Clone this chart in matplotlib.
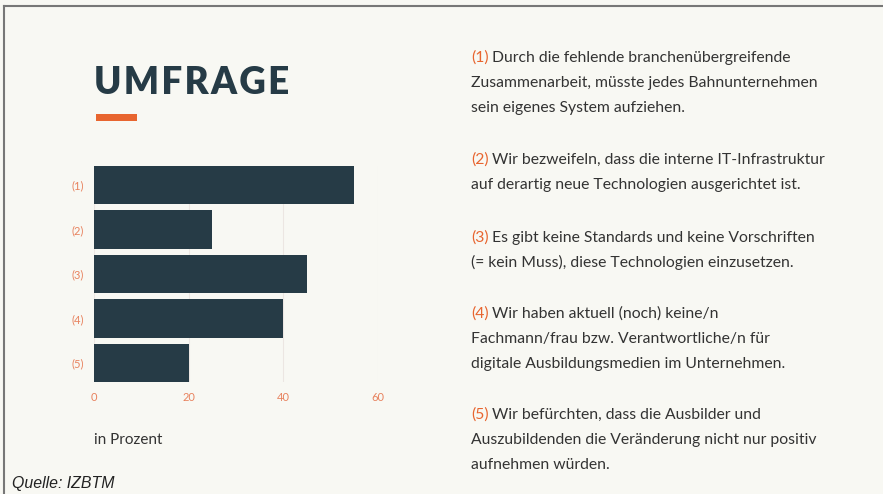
import matplotlib.pyplot as plt
from matplotlib.patches import Rectangle
from matplotlib.lines import Line2D

# data
labels = ['(1)', '(2)', '(3)', '(4)', '(5)']
werte = [55, 25, 45, 40, 20]
xticks = [0, 20, 40, 60]

antworten = [
    ['Durch die fehlende branchenübergreifende',
     'Zusammenarbeit, müsste jedes Bahnunternehmen',
     'sein eigenes System aufziehen.'],
    ['Wir bezweifeln, dass die interne IT-Infrastruktur',
     'auf derartig neue Technologien ausgerichtet ist.'],
    ['Es gibt keine Standards und keine Vorschriften',
     '(= kein Muss), diese Technologien einzusetzen.'],
    ['Wir haben aktuell (noch) keine/n',
     'Fachmann/frau bzw. Verantwortliche/n für',
     'digitale Ausbildungsmedien im Unternehmen.'],
    ['Wir befürchten, dass die Ausbilder und',
     'Auszubildenden die Veränderung nicht nur positiv',
     'aufnehmen würden.'],
]
# top of first line of each paragraph (pixels from top)
absatz_y = [55, 157, 235, 311, 412]

BG = '#f8f8f3'
DUNKEL = '#263b46'
ORANGE = '#e8652f'
ORANGE_HELL = '#e8825e'
TEXT = '#333333'

W, H = 883, 494
fig = plt.figure(figsize=(W / 100, H / 100), dpi=100)
fig.patch.set_facecolor(BG)

def fx(px):
    return px / W

def fy(py):
    return 1 - py / H

# frame (top and left line only)
fig.add_artist(Line2D([fx(4), 1], [fy(6.5), fy(6.5)], color='#777777', lw=1.5))
fig.add_artist(Line2D([fx(4), fx(4)], [0, fy(6.5)], color='#777777', lw=1.5))

# title + orange dash
fig.text(fx(94), fy(94), '\u200a'.join('UMFRAGE'), fontsize=26.5, fontweight='heavy',
         family='Lato', color=DUNKEL, va='baseline', ha='left')
fig.add_artist(Rectangle((fx(96), fy(121)), fx(137) - fx(96), fy(114) - fy(121),
                         color=ORANGE, lw=0))

# bar chart
ax = fig.add_axes([fx(94), fy(382), fx(378) - fx(94), fy(166) - fy(382)])
ax.set_facecolor(BG)
y = list(range(len(werte)))
ax.barh(y, werte, height=0.86, color=DUNKEL, zorder=3)
ax.set_ylim(len(werte) - 0.57, -0.43)
ax.set_xlim(0, 60)
ax.set_xticks(xticks)
ax.set_yticks(y)
ax.set_yticklabels(labels)
ax.grid(axis='x', color='#ece6e2', lw=0.8, zorder=0)
for s in ax.spines.values():
    s.set_visible(False)
ax.tick_params(length=0, colors=ORANGE_HELL, labelsize=8)
ax.tick_params(axis='y', pad=7)
ax.tick_params(axis='x', pad=7)
for t in ax.get_xticklabels() + ax.get_yticklabels():
    t.set_family('Lato')

fig.text(fx(94), fy(444), 'in Prozent', fontsize=11, family='Lato', color=TEXT,
         va='baseline', ha='left')

# answers text
zeilen_abstand = 24.8
for i, zeilen in enumerate(antworten):
    for j, zeile in enumerate(zeilen):
        yy = absatz_y[i] + 7 + j * zeilen_abstand
        if j == 0:
            nr = fig.text(fx(471), fy(yy), labels[i], fontsize=11.3, family='Lato',
                          color=ORANGE, va='baseline', ha='left')
            fig.canvas.draw()
            ext = nr.get_window_extent()
            fig.text((ext.x1 + 3) / W, fy(yy), zeile, fontsize=11.3, family='Lato',
                     color=TEXT, va='baseline', ha='left')
        else:
            fig.text(fx(471), fy(yy), zeile, fontsize=11.3, family='Lato',
                     color=TEXT, va='baseline', ha='left')

fig.text(fx(12), fy(488), 'Quelle: IZBTM', fontsize=11.4, style='italic',
         family='Liberation Sans', color='#222222', va='baseline', ha='left')

fig.savefig('out.png', dpi=100, facecolor=BG)
